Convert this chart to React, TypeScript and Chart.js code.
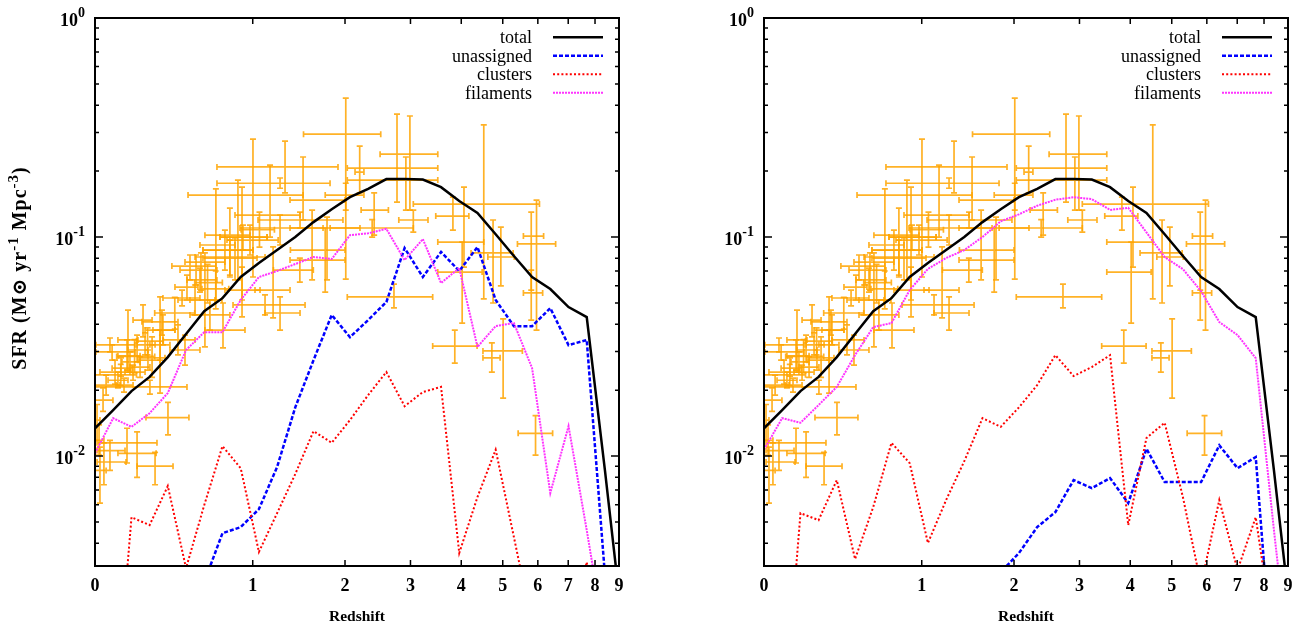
import React, { useEffect, useRef } from 'react';
import { Chart, registerables, LinearScale } from 'chart.js';

Chart.register(...registerables);

// ------------------------------------------------------------------ data
const X_TICKS = [0, 1, 2, 3, 4, 5, 6, 7, 8, 9];
const X_MIN = 0;
const X_MAX = 9;
const Y_MIN = 0.00315;
const Y_MAX = 1;
const Y_TICK_VALUES = [1, 0.1, 0.01];
const Y_TICK_EXPONENTS = ['0', '-1', '-2'];

const LEGEND_LABELS = ['total', 'unassigned', 'clusters', 'filaments'];

// redshifts of the model outputs
const MODEL_Z = [0, 0.083, 0.174, 0.271, 0.377, 0.492, 0.616, 0.751, 0.897, 1.055,
  1.226, 1.411, 1.612, 1.83, 2.066, 2.321, 2.598, 2.898, 3.223, 3.575,
  3.956, 4.369, 4.816, 5.301, 5.826, 6.394, 7.011, 7.678, 8.401, 9.18];

const TOTAL = [0.0134, 0.0162, 0.0198, 0.023, 0.0283, 0.0361, 0.0459, 0.0526, 0.0657, 0.0761,
  0.0872, 0.1, 0.117, 0.134, 0.152, 0.166, 0.184, 0.184, 0.183, 0.169,
  0.146, 0.129, 0.103, 0.0819, 0.0657, 0.0579, 0.0479, 0.0431, 0.0086, 0.0016];

const UNASSIGNED_LEFT = [null, null, null, null, null, null, 0.00266, 0.00445, 0.00474, 0.00573,
  0.00891, 0.0167, 0.0274, 0.0441, 0.0349, 0.0418, 0.0505, 0.0891, 0.0657, 0.0855,
  0.07, 0.09, 0.0516, 0.0392, 0.0392, 0.0474, 0.0321, 0.0339, 0.00286, null];
const CLUSTERS_LEFT = [null, 0.0005, 0.00526, 0.00484, 0.0073, 0.00308, 0.00597, 0.0111, 0.00881, 0.00365,
  0.00549, 0.00828, 0.013, 0.0115, 0.0146, 0.019, 0.0242, 0.0169, 0.0196, 0.0207,
  0.00361, 0.0065, 0.0107, 0.00427, 0.0017, 0.001, 0.0015, 0.00328, 0.001, null];
const FILAMENTS_LEFT = [0.0103, 0.0149, 0.0136, 0.0157, 0.0194, 0.0305, 0.0368, 0.0368, 0.0516, 0.0657,
  0.07, 0.0753, 0.0811, 0.0794, 0.102, 0.104, 0.109, 0.0785, 0.0979, 0.0617,
  0.0722, 0.0315, 0.0392, 0.0405, 0.0252, 0.00678, 0.0137, 0.00459, 0.00145, null];

const UNASSIGNED_RIGHT = [null, null, null, null, null, null, null, null, null, null,
  null, null, 0.0022, 0.00295, 0.00361, 0.00474, 0.00555, 0.00777, 0.00714, 0.00794,
  0.0061, 0.0108, 0.00761, 0.00761, 0.00761, 0.0112, 0.00881, 0.0099, 0.00085, null];
const CLUSTERS_RIGHT = [null, 0.0005, 0.00549, 0.0051, 0.00777, 0.00339, 0.00585, 0.0115, 0.00929, 0.00401,
  0.0063, 0.00948, 0.0149, 0.0136, 0.0167, 0.0211, 0.0289, 0.0232, 0.0255, 0.0289,
  0.00484, 0.0121, 0.0142, 0.0065, 0.00258, 0.0063, 0.00302, 0.00526, 0.00143, null];
const FILAMENTS_RIGHT = [0.0107, 0.0149, 0.0142, 0.0171, 0.0207, 0.0289, 0.0388, 0.0405, 0.0573, 0.0715,
  0.0802, 0.0872, 0.1, 0.118, 0.127, 0.139, 0.148, 0.152, 0.149, 0.133,
  0.136, 0.105, 0.081, 0.0714, 0.0566, 0.0409, 0.0357, 0.028, 0.00459, 0.00084];

// observational compilation (same in both panels)
const OBS_Z = [0.009, 0.018, 0.022, 0.04, 0.068, 0.036, 0.05, 0.068, 0.078, 0.092,
  0.106, 0.121, 0.136, 0.151, 0.151, 0.166, 0.182, 0.203, 0.203, 0.219,
  0.235, 0.246, 0.262, 0.285, 0.302, 0.273, 0.378, 0.331, 0.348, 0.156,
  0.331, 0.342, 0.466, 0.498, 0.518, 0.586, 0.85, 0.621, 0.908, 1.111,
  1.187, 0.552, 0.657, 0.755, 0.44, 0.485, 0.559, 0.593, 0.809, 0.77,
  0.916, 1.75, 1.46, 1.255, 0.976, 1.305, 1.255, 1.002, 0.809, 0.701,
  0.874, 0.908, 1.158, 1.495, 1.596, 1.772, 2.01, 2.01, 2.2, 2.77,
  2.99, 4.52, 2.41, 3.05, 2.72, 3.82, 4.06, 4.02, 4.75, 4.95,
  5.8, 5.96, 5.8, 3.86, 4.72, 5.01, 5.93, 2.92, 2.38, 1.255,
  1.462, 0.12, 0.19, 0.26, 0.42, 0.64, 0.7, 1.06];
const OBS_Z_LO = [0, 0, 0, 0.009, 0.009, 0, 0, 0.004, 0.004, 0.022,
  0.059, 0.078, 0.097, 0.009, 0.106, 0.126, 0.141, 0.106, 0.156, 0.166,
  0.182, 0.203, 0.208, 0.219, 0.203, 0, 0.251, 0.273, 0.29, 0.106,
  0.246, 0.229, 0.348, 0.421, 0.402, 0.498, 0.552, 0.518, 0.77, 0.834,
  1.02, 0.44, 0.518, 0.621, 0.348, 0.39, 0.453, 0.485, 0.607, 0.607,
  0.732, 1.36, 1.19, 0.891, 0.786, 0.709, 0.709, 0.505, 0.621, 0.586,
  0.732, 0.607, 0.85, 1.356, 1.356, 1.356, 1.5, 1.75, 2.135, 2.5,
  2.03, 3.05, 2.22, 2.8, 2.03, 3.47, 3.51, 3.51, 4.22, 4.62,
  5.57, 5.4, 5.57, 3.41, 4.5, 4.5, 5.42, 2.03, 1.81, 1.111,
  1.047, 0.0, 0.1, 0.2, 0.3, 0.55, 0.6, 0.9];
const OBS_Z_HI = [0.022, 0.04, 0.05, 0.146, 0.141, 0.082, 0.116, 0.192, 0.192, 0.166,
  0.156, 0.177, 0.182, 0.313, 0.219, 0.219, 0.246, 0.308, 0.262, 0.273,
  0.285, 0.302, 0.331, 0.36, 0.409, 0.498, 0.511, 0.39, 0.421, 0.208,
  0.421, 0.44, 0.586, 0.572, 0.701, 0.709, 1.111, 0.747, 1.065, 1.517,
  1.356, 0.694, 0.809, 0.933, 0.552, 0.586, 0.709, 0.77, 1.038, 1.002,
  1.13, 2.0, 1.61, 1.724, 1.236, 1.909, 1.809, 1.495, 0.976, 0.85,
  1.13, 1.002, 1.462, 2.0, 2.0, 2.204, 2.51, 2.26, 2.26, 3.51,
  3.51, 6.05, 2.63, 3.32, 3.41, 4.17, 4.52, 4.48, 5.28, 5.31,
  6.18, 6.57, 6.15, 4.36, 4.93, 5.54, 6.47, 3.51, 3.05, 1.462,
  1.973, 0.2, 0.3, 0.35, 0.55, 0.75, 0.8, 1.2];
const OBS_SFR = [0.0146, 0.0118, 0.0086, 0.0094, 0.0106, 0.018, 0.0211, 0.0322, 0.0299, 0.0242,
  0.0222, 0.0252, 0.0211, 0.0115, 0.0287, 0.0269, 0.0242, 0.0103, 0.0305, 0.0255,
  0.0418, 0.0322, 0.0274, 0.0281, 0.009, 0.0207, 0.015, 0.0322, 0.0376, 0.0339,
  0.0376, 0.041, 0.0527, 0.0591, 0.0737, 0.0637, 0.0811, 0.0516, 0.0573, 0.049,
  0.0573, 0.0516, 0.0441, 0.0376, 0.0339, 0.0305, 0.0707, 0.0769, 0.0802, 0.0872,
  0.1, 0.0872, 0.0707, 0.11, 0.0969, 0.209, 0.176, 0.1555, 0.102, 0.092,
  0.1, 0.0872, 0.126, 0.1475, 0.0785, 0.11, 0.295, 0.1555, 0.198, 0.239,
  0.2065, 0.1415, 0.1328, 0.1196, 0.0533, 0.1247, 0.0949, 0.0692, 0.0846, 0.0811,
  0.101, 0.093, 0.0556, 0.0318, 0.0281, 0.0302, 0.0127, 0.182, 0.11, 0.045,
  0.1196, 0.0235, 0.0285, 0.0335, 0.045, 0.062, 0.058, 0.108];
const OBS_SFR_LO = [0.0118, 0.0101, 0.0061, 0.0074, 0.0086, 0.016, 0.019, 0.0299, 0.0274, 0.0213,
  0.0205, 0.0232, 0.0196, 0.0093, 0.0247, 0.0242, 0.0222, 0.008, 0.0269, 0.0229,
  0.035, 0.029, 0.0247, 0.0229, 0.0074, 0.0192, 0.0125, 0.0274, 0.0322, 0.0247,
  0.0194, 0.0357, 0.0485, 0.0516, 0.0637, 0.0561, 0.0637, 0.0315, 0.0432, 0.0441,
  0.0428, 0.0441, 0.0376, 0.0312, 0.029, 0.026, 0.0604, 0.0573, 0.067, 0.0707,
  0.0872, 0.0561, 0.0623, 0.092, 0.0828, 0.159, 0.167, 0.0657, 0.0657, 0.0516,
  0.0637, 0.0516, 0.1, 0.1196, 0.0637, 0.0637, 0.0643, 0.1328, 0.159, 0.1445,
  0.1328, 0.0522, 0.1021, 0.1054, 0.0475, 0.1076, 0.0729, 0.0405, 0.05, 0.0598,
  0.0573, 0.0376, 0.0418, 0.0266, 0.0242, 0.0184, 0.0101, 0.1328, 0.1, 0.0376,
  0.11, 0.021, 0.024, 0.029, 0.038, 0.05, 0.047, 0.09];
const OBS_SFR_HI = [0.0172, 0.0139, 0.011, 0.0115, 0.0118, 0.0205, 0.0234, 0.0346, 0.0322, 0.0274,
  0.0242, 0.0281, 0.0227, 0.0134, 0.0339, 0.0299, 0.026, 0.0129, 0.0357, 0.0284,
  0.049, 0.0365, 0.0305, 0.035, 0.0104, 0.0222, 0.0176, 0.0376, 0.0441, 0.0464,
  0.0533, 0.0464, 0.0573, 0.067, 0.0828, 0.0722, 0.099, 0.0846, 0.0729, 0.0544,
  0.0901, 0.0604, 0.0516, 0.05, 0.0397, 0.0357, 0.0828, 0.0846, 0.0969, 0.1076,
  0.1134, 0.11, 0.0802, 0.126, 0.1134, 0.274, 0.186, 0.28, 0.1356, 0.166,
  0.182, 0.169, 0.213, 0.232, 0.1328, 0.1234, 0.431, 0.176, 0.26, 0.364,
  0.357, 0.325, 0.159, 0.1328, 0.061, 0.152, 0.169, 0.0949, 0.1196, 0.111,
  0.13, 0.1475, 0.0707, 0.0376, 0.0329, 0.0423, 0.0153, 0.232, 0.12, 0.0533,
  0.13, 0.0262, 0.034, 0.0385, 0.053, 0.075, 0.07, 0.13];

// ------------------------------------------------------------------ styles
const SERIF = '"Liberation Serif", "DejaVu Serif", serif';
const ORANGE = 'rgba(255,165,0,0.85)';
const SERIES_STYLE = [
  { color: '#000000', width: 2.5, dash: [] as number[] },
  { color: '#0000ff', width: 2.5, dash: [4, 2] },
  { color: '#ff0000', width: 2, dash: [2, 2.2] },
  { color: '#ff33ff', width: 2, dash: [2, 1] },
];

// x axis: linear in log10(1+z)
class OnePlusZScale extends LinearScale {
  static id = 'onePlusZ';
  static defaults = {};
  _lmin = 0;
  _lmax = 1;
  buildTicks() {
    return X_TICKS.map((value) => ({ value }));
  }
  configure() {
    super.configure();
    this._lmin = Math.log10(1 + this.min);
    this._lmax = Math.log10(1 + this.max);
  }
  getPixelForValue(value: any) {
    if (value === null || value === undefined || isNaN(value)) return NaN;
    return this.getPixelForDecimal((Math.log10(1 + value) - this._lmin) / (this._lmax - this._lmin));
  }
  getValueForPixel(pixel: number) {
    const d = this.getDecimalForPixel(pixel);
    return Math.pow(10, this._lmin + d * (this._lmax - this._lmin)) - 1;
  }
}
Chart.register(OnePlusZScale as any);

const errorBarPlugin = {
  id: 'errorBars',
  beforeDatasetsDraw(chart: any) {
    const { ctx, chartArea } = chart;
    const xs = chart.scales.x;
    const ys = chart.scales.y;
    const ds = chart.data.datasets.find((d: any) => d.isObs);
    if (!ds) return;
    ctx.save();
    ctx.beginPath();
    ctx.rect(chartArea.left, chartArea.top, chartArea.right - chartArea.left, chartArea.bottom - chartArea.top);
    ctx.clip();
    ctx.strokeStyle = ORANGE;
    ctx.lineWidth = 1.7;
    const cap = 3;
    for (const p of ds.data) {
      const px = xs.getPixelForValue(p.x);
      const py = ys.getPixelForValue(p.y);
      const x0 = xs.getPixelForValue(p.xMin);
      const x1 = xs.getPixelForValue(p.xMax);
      const y0 = ys.getPixelForValue(p.yMin);
      const y1 = ys.getPixelForValue(p.yMax);
      ctx.beginPath();
      ctx.moveTo(x0, py); ctx.lineTo(x1, py);
      ctx.moveTo(x0, py - cap); ctx.lineTo(x0, py + cap);
      ctx.moveTo(x1, py - cap); ctx.lineTo(x1, py + cap);
      ctx.moveTo(px, y0); ctx.lineTo(px, y1);
      ctx.moveTo(px - cap, y0); ctx.lineTo(px + cap, y0);
      ctx.moveTo(px - cap, y1); ctx.lineTo(px + cap, y1);
      ctx.stroke();
    }
    ctx.restore();
  },
};

function drawYTitle(ctx: CanvasRenderingContext2D, cx: number, cy: number) {
  const base = `bold 20px ${SERIF}`;
  const sup = `bold 15px ${SERIF}`;
  const parts = [
    { t: 'SFR (M', f: base, dy: 0 },
    { t: '\u2299', f: base, dy: 0 },
    { t: ' yr', f: base, dy: 0 },
    { t: '-1', f: sup, dy: -8 },
    { t: ' Mpc', f: base, dy: 0 },
    { t: '-3', f: sup, dy: -8 },
    { t: ')', f: base, dy: 0 },
  ];
  const c = ctx as any;
  c.letterSpacing = '1px';
  let total = 0;
  const widths = parts.map((p) => { ctx.font = p.f; const w = ctx.measureText(p.t).width; total += w; return w; });
  ctx.save();
  ctx.translate(cx, cy);
  ctx.rotate(-Math.PI / 2);
  ctx.fillStyle = '#000';
  ctx.textBaseline = 'alphabetic';
  ctx.textAlign = 'left';
  let x = -total / 2;
  parts.forEach((p, i) => {
    ctx.font = p.f;
    ctx.fillText(p.t, x, 6 + p.dy);
    x += widths[i];
  });
  ctx.restore();
  c.letterSpacing = '0px';
}

function makeDecor(showYTitle: boolean) {
  return {
    id: 'decor',
    afterDraw(chart: any) {
      const { ctx, chartArea } = chart;
      const { left, right, top, bottom } = chartArea;
      const xs = chart.scales.x;
      const ys = chart.scales.y;
      ctx.save();
      ctx.strokeStyle = '#000';
      ctx.lineWidth = 1.5;
      ctx.setLineDash([]);
      ctx.beginPath();
      for (const v of X_TICKS) {
        const px = xs.getPixelForValue(v);
        ctx.moveTo(px, bottom); ctx.lineTo(px, bottom - 6);
        ctx.moveTo(px, top); ctx.lineTo(px, top + 6);
      }
      for (let e = -3; e <= 0; e++) {
        for (let m = 1; m <= 9; m++) {
          const v = m * Math.pow(10, e);
          if (v < Y_MIN || v > Y_MAX * 1.0001) continue;
          const py = ys.getPixelForValue(v);
          const len = m === 1 ? 8 : 4;
          ctx.moveTo(left, py); ctx.lineTo(left + len, py);
          ctx.moveTo(right, py); ctx.lineTo(right - len, py);
        }
      }
      ctx.stroke();
      ctx.lineWidth = 2;
      ctx.strokeRect(left, top, right - left, bottom - top);

      // y tick labels 10^n
      ctx.fillStyle = '#000';
      ctx.textBaseline = 'alphabetic';
      ctx.textAlign = 'left';
      Y_TICK_VALUES.forEach((v, i) => {
        const py = ys.getPixelForValue(v);
        const exp = Y_TICK_EXPONENTS[i];
        ctx.font = `bold 18px ${SERIF}`;
        const w1 = ctx.measureText('10').width;
        ctx.font = `bold 14px ${SERIF}`;
        const w2 = ctx.measureText(exp).width;
        const x0 = left - 10 - w1 - w2;
        ctx.font = `bold 18px ${SERIF}`;
        ctx.fillText('10', x0, py + 8);
        ctx.font = `bold 14px ${SERIF}`;
        ctx.fillText(exp, x0 + w1, py - 1);
      });

      // x title
      ctx.font = `bold 15.5px ${SERIF}`;
      ctx.textAlign = 'center';
      ctx.fillText('Redshift', (left + right) / 2, 621);

      if (showYTitle) drawYTitle(ctx, 20, 268);

      // legend
      ctx.font = `18px ${SERIF}`;
      ctx.textAlign = 'right';
      LEGEND_LABELS.forEach((lab, i) => {
        const yy = top + 19.3 + i * 18.5;
        ctx.fillStyle = '#000';
        ctx.fillText(lab, left + 437, yy + 6);
        const st = SERIES_STYLE[i];
        ctx.strokeStyle = st.color;
        ctx.lineWidth = st.width;
        ctx.setLineDash(st.dash);
        ctx.beginPath();
        ctx.moveTo(left + 458, yy);
        ctx.lineTo(left + 508, yy);
        ctx.stroke();
      });
      ctx.restore();
    },
  };
}

function buildConfig(side: 'left' | 'right'): any {
  const series = side === 'left'
    ? [TOTAL, UNASSIGNED_LEFT, CLUSTERS_LEFT, FILAMENTS_LEFT]
    : [TOTAL, UNASSIGNED_RIGHT, CLUSTERS_RIGHT, FILAMENTS_RIGHT];
  const lineSets = series.map((vals, i) => ({
    type: 'line',
    label: LEGEND_LABELS[i],
    data: MODEL_Z.map((z, k) => ({ x: z, y: vals[k] })),
    borderColor: SERIES_STYLE[i].color,
    borderWidth: SERIES_STYLE[i].width,
    borderDash: SERIES_STYLE[i].dash,
    pointRadius: 0,
    tension: 0,
    spanGaps: false,
    fill: false,
    clip: 0,
    order: 4 - i,
  }));
  const obs = {
    type: 'scatter',
    isObs: true,
    label: 'observations',
    data: OBS_Z.map((z, i) => ({
      x: z, y: OBS_SFR[i], xMin: OBS_Z_LO[i], xMax: OBS_Z_HI[i], yMin: OBS_SFR_LO[i], yMax: OBS_SFR_HI[i],
    })),
    pointRadius: 0,
    showLine: false,
    order: 10,
  };
  return {
    type: 'line',
    data: { datasets: [obs, ...lineSets] },
    options: {
      responsive: false,
      animation: false,
      events: [],
      devicePixelRatio: 1,
      layout: { padding: { left: 0, right: side === 'left' ? 50 : 19, top: 18, bottom: 0 } },
      plugins: { legend: { display: false }, tooltip: { enabled: false } },
      scales: {
        x: {
          type: 'onePlusZ',
          min: X_MIN,
          max: X_MAX,
          grid: { display: false, drawTicks: false },
          border: { display: false },
          ticks: {
            autoSkip: false,
            maxRotation: 0,
            padding: 10,
            color: '#000',
            font: { family: SERIF, size: 18, weight: 'bold' },
            callback: (v: any) => String(v),
          },
          afterFit: (s: any) => { s.height = 65; },
        },
        y: {
          type: 'logarithmic',
          min: Y_MIN,
          max: Y_MAX,
          grid: { display: false, drawTicks: false },
          border: { display: false },
          ticks: { display: false },
          afterFit: (s: any) => { s.width = 95; },
        },
      },
    },
    plugins: [errorBarPlugin, makeDecor(side === 'left')],
  };
}

function Panel({ side, left, width }: { side: 'left' | 'right'; left: number; width: number }) {
  const ref = useRef<HTMLCanvasElement>(null);
  useEffect(() => {
    if (!ref.current) return;
    const chart = new Chart(ref.current, buildConfig(side));
    return () => chart.destroy();
  }, [side]);
  return (
    <canvas
      ref={ref}
      width={width}
      height={631}
      style={{ position: 'absolute', left, top: 0, width, height: 631 }}
    />
  );
}

export default function App() {
  return (
    <div style={{ position: 'fixed', left: 0, top: 0, width: 1307, height: 631, background: '#fff' }}>
      <Panel side="left" left={0} width={669} />
      <Panel side="right" left={669} width={638} />
    </div>
  );
}
